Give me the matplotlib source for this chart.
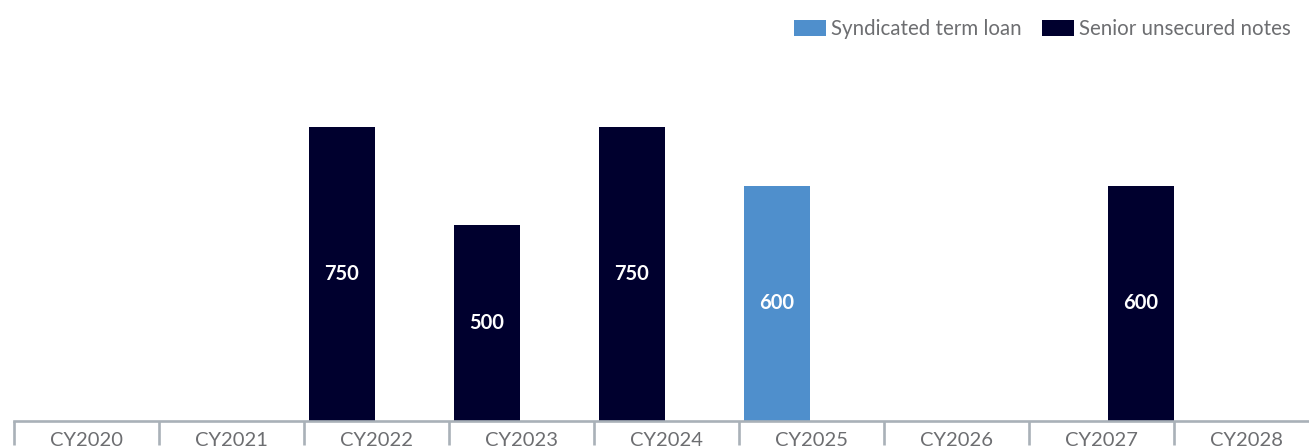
import matplotlib
matplotlib.use("Agg")
import matplotlib.pyplot as plt
from matplotlib.patches import Patch
from matplotlib.ticker import FixedLocator, NullFormatter

# ---- data ----
years = ["CY2020", "CY2021", "CY2022", "CY2023", "CY2024", "CY2025", "CY2026", "CY2027", "CY2028"]
term_loan = [0, 0, 0, 0, 0, 600, 0, 0, 0]
senior_notes = [0, 0, 750, 500, 750, 0, 0, 600, 0]
series_names = ["Syndicated term loan", "Senior unsecured notes"]

# ---- style ----
C_TERM = "#4f8fcc"
C_NOTES = "#00002e"
C_TEXT = "#6d6e71"
C_AXIS = "#a9b1b8"
FONT = ["Lato", "DejaVu Sans"]
plt.rcParams["font.family"] = FONT

fig = plt.figure(figsize=(13.09, 4.47), dpi=100)
ax = fig.add_axes([13.5 / 1309, 26.5 / 447, 9 * 145 / 1309, 391.3 / 447])
ax.set_xlim(0, 9)
ax.set_ylim(0, 1000)

bar_w = 0.45
gap = 0.04
n = len(years)
# placement within category: left side except where the bar sits flush right
right_flush = [False] * n
right_flush[years.index("CY2027")] = True

for i in range(n):
    for vals, col in ((term_loan, C_TERM), (senior_notes, C_NOTES)):
        v = vals[i]
        if v <= 0:
            continue
        if right_flush[i]:
            x0 = i + 1 - bar_w
        else:
            x0 = i + gap
        ax.bar(x0, v, width=bar_w, align="edge", color=col, linewidth=0, zorder=2)
        ax.text(x0 + bar_w / 2, v / 2, f"{v}", ha="center", va="center",
                color="white", fontsize=14.5, fontweight="bold", zorder=3)

for s in ("top", "right", "left"):
    ax.spines[s].set_visible(False)
ax.spines["bottom"].set_color(C_AXIS)
ax.spines["bottom"].set_linewidth(1.9)
ax.spines["bottom"].set_zorder(4)
ax.set_yticks([])

ax.set_xticks([i + 0.5 for i in range(n)])
ax.set_xticklabels(years, fontsize=14.5, color=C_TEXT)
ax.tick_params(axis="x", which="major", length=0, pad=8)
ax.xaxis.set_minor_locator(FixedLocator(list(range(n))))
ax.xaxis.set_minor_formatter(NullFormatter())
ax.tick_params(axis="x", which="minor", length=17.5, width=1.9, color=C_AXIS, direction="out")

handles = [Patch(facecolor=C_TERM, edgecolor="none"), Patch(facecolor=C_NOTES, edgecolor="none")]
leg = fig.legend(handles, series_names, loc="upper right", bbox_to_anchor=(1291 / 1309, 1 - 19 / 447),
                 ncol=2, frameon=False, fontsize=14.8, handlelength=1.55, handleheight=0.8,
                 handletextpad=0.25, columnspacing=1.0, borderaxespad=0, borderpad=0)
for t in leg.get_texts():
    t.set_color(C_TEXT)

fig.savefig("out.png", dpi=100)
